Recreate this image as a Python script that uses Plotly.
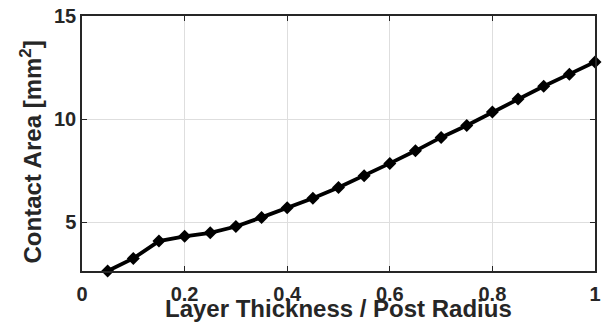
import plotly.graph_objects as go

ratio = [0.05, 0.10, 0.15, 0.20, 0.25, 0.30, 0.35, 0.40, 0.45, 0.50,
         0.55, 0.60, 0.65, 0.70, 0.75, 0.80, 0.85, 0.90, 0.95, 1.00]
area = [2.63, 3.24, 4.08, 4.31, 4.48, 4.79, 5.23, 5.70, 6.16, 6.68,
        7.25, 7.85, 8.46, 9.11, 9.69, 10.34, 10.97, 11.59, 12.18, 12.77]
x_ticks = [0, 0.2, 0.4, 0.6, 0.8, 1]
x_tick_text = ["0", "0.2", "0.4", "0.6", "0.8", "1"]
y_ticks = [5, 10, 15]
y_tick_text = ["5", "10", "15"]

FONT = "Liberation Sans, Arial, sans-serif"
AX = "#262626"

fig = go.Figure()
fig.add_trace(go.Scatter(
    x=ratio, y=area, mode="lines+markers",
    line=dict(color="black", width=3.8),
    marker=dict(symbol="diamond", size=10, color="black"),
    cliponaxis=False, showlegend=False,
))

fig.update_layout(
    template="none",
    width=604, height=325, autosize=False,
    margin=dict(l=82, r=9, t=16, b=54, pad=0),
    paper_bgcolor="white", plot_bgcolor="white",
    font=dict(family=FONT, color=AX),
    xaxis=dict(
        range=[0, 1], tickvals=x_ticks, ticktext=x_tick_text, automargin=False,
        showgrid=True, gridcolor="#dedede", gridwidth=1,
        showline=True, linecolor=AX, linewidth=1.5, mirror="ticks",
        ticks="inside", ticklen=5, tickcolor=AX, ticklabelstandoff=4,
        tickfont=dict(family=FONT, size=20, color=AX, weight="bold"),
        zeroline=False,
    ),
    yaxis=dict(
        range=[2.63, 15], tickvals=y_ticks, ticktext=y_tick_text, automargin=False,
        showgrid=True, gridcolor="#dedede", gridwidth=1,
        showline=True, linecolor=AX, linewidth=1.5, mirror="ticks",
        ticks="inside", ticklen=5, tickcolor=AX,
        tickfont=dict(family=FONT, size=20, color=AX, weight="bold"),
        zeroline=False,
    ),
    annotations=[
        dict(text="<b>Layer Thickness / Post Radius</b>", xref="paper", yref="paper",
             x=0.5, y=0, yshift=-37, xanchor="center", yanchor="middle",
             showarrow=False, font=dict(family=FONT, size=24, color=AX)),
        dict(text="<b>Contact Area [mm<sup>2</sup>]</b>", xref="paper", yref="paper",
             x=0, y=0.5, xshift=-52, yshift=-9, xanchor="center", yanchor="middle",
             textangle=-90, showarrow=False, font=dict(family=FONT, size=24, color=AX)),
    ],
)

fig.write_html(
    "out.html",
    config={"displayModeBar": False, "responsive": False},
    post_script="document.body.style.margin='0';document.body.style.overflow='hidden';document.documentElement.style.overflow='hidden';",
)
